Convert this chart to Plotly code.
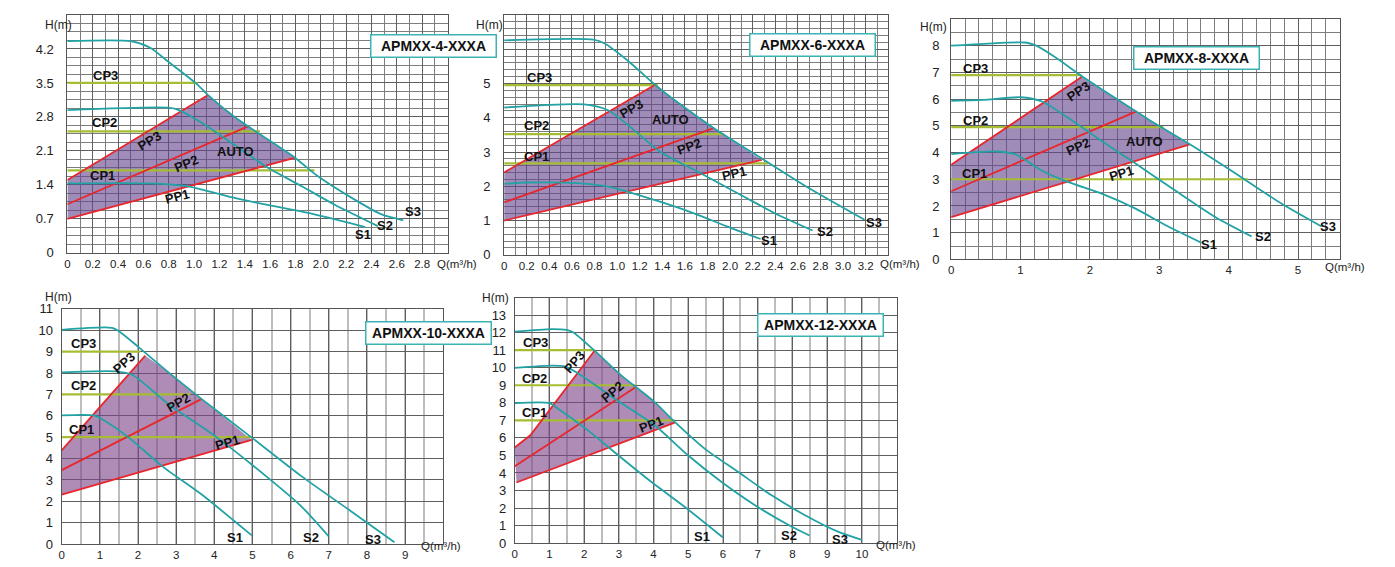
import plotly.graph_objects as go

W, H = 1395, 567
FONT = "Liberation Sans, Arial, sans-serif"

# ================= DATA =================
# ---- APMXX-4-XXXA ----
M4_S1_Q = [0, 0.65, 0.95, 1.32, 1.59, 1.90, 2.35]
M4_S1_H = [1.43, 1.43, 1.37, 1.13, 0.98, 0.82, 0.53]
M4_S2_Q = [0, 0.80, 0.88, 1.09, 1.32, 1.59, 1.85, 2.11, 2.45]
M4_S2_H = [2.94, 2.99, 2.94, 2.63, 2.22, 1.74, 1.37, 0.99, 0.55]
M4_S3_Q = [0, 0.50, 0.65, 0.80, 1.02, 1.11, 1.32, 1.51, 1.80, 1.98, 2.27, 2.48, 2.65]
M4_S3_H = [4.36, 4.36, 4.23, 3.93, 3.48, 3.25, 2.80, 2.46, 1.95, 1.57, 1.09, 0.79, 0.67]
M4_PP1_Q = [0, 1.80]
M4_PP1_H = [0.70, 1.96]
M4_PP2_Q = [0, 1.43]
M4_PP2_H = [1.00, 2.61]
M4_PP3_Q = [0, 1.11]
M4_PP3_H = [1.50, 3.25]
M4_CP_H = [1.70, 2.50, 3.50]
M4_CP_END = [1.95, 1.52, 1.03]
M4_XTICKS = [0, 0.2, 0.4, 0.6, 0.8, 1.0, 1.2, 1.4, 1.6, 1.8, 2.0, 2.2, 2.4, 2.6, 2.8]
M4_YTICKS = [0, 0.7, 1.4, 2.1, 2.8, 3.5, 4.2]

# ---- APMXX-6-XXXA ----
M6_S1_Q = [0, 0.21, 0.65, 0.95, 1.33, 1.68, 1.97, 2.27]
M6_S1_H = [2.07, 2.11, 2.09, 1.97, 1.60, 1.21, 0.83, 0.46]
M6_S2_Q = [0, 0.71, 0.92, 1.15, 1.38, 1.71, 2.12, 2.44, 2.73]
M6_S2_H = [4.30, 4.39, 4.22, 3.64, 3.01, 2.43, 1.70, 1.14, 0.71]
M6_S3_Q = [0, 0.79, 0.89, 1.09, 1.34, 1.51, 1.86, 2.30, 2.70, 3.19]
M6_S3_H = [6.26, 6.28, 6.17, 5.68, 4.95, 4.51, 3.69, 2.77, 1.94, 1.02]
M6_PP1_Q = [0, 2.28]
M6_PP1_H = [1.00, 2.77]
M6_PP2_Q = [0, 1.85]
M6_PP2_H = [1.53, 3.69]
M6_PP3_Q = [0, 1.34]
M6_PP3_H = [2.40, 4.97]
M6_CP_H = [2.67, 3.52, 4.95]
M6_CP_END = [2.34, 1.94, 1.36]
M6_XTICKS = [0, 0.2, 0.4, 0.6, 0.8, 1.0, 1.2, 1.4, 1.6, 1.8, 2.0, 2.2, 2.4, 2.6, 2.8, 3.0, 3.2]
M6_YTICKS = [0, 1, 2, 3, 4, 5, 6]

# ---- APMXX-8-XXXA ----
M8_S1_Q = [0, 0.64, 0.92, 1.31, 1.69, 2.17, 2.65, 3.13, 3.61]
M8_S1_H = [3.94, 4.04, 3.94, 3.32, 2.89, 2.46, 1.91, 1.23, 0.62]
M8_S2_Q = [0, 0.45, 1.0, 1.31, 1.69, 2.17, 2.60, 3.23, 3.80, 4.33]
M8_S2_H = [5.94, 5.97, 6.07, 5.91, 5.29, 4.43, 3.69, 2.58, 1.60, 0.86]
M8_S3_Q = [0, 1.07, 1.21, 1.50, 1.88, 2.36, 2.84, 3.44, 4.04, 4.76, 5.34]
M8_S3_H = [8.0, 8.12, 8.02, 7.57, 6.87, 6.05, 5.25, 4.31, 3.32, 2.09, 1.23]
M8_PP1_Q = [0, 3.44]
M8_PP1_H = [1.58, 4.31]
M8_PP2_Q = [0, 2.67]
M8_PP2_H = [2.55, 5.54]
M8_PP3_Q = [0, 1.88]
M8_PP3_H = [3.54, 6.83]
M8_CP_H = [3.0, 4.95, 6.9]
M8_CP_END = [4.28, 3.06, 1.88]
M8_XTICKS = [0, 1, 2, 3, 4, 5]
M8_YTICKS = [0, 1, 2, 3, 4, 5, 6, 7, 8]

# ---- APMXX-10-XXXA ----
M10_S1_Q = [0, 0.84, 1.06, 1.76, 2.63, 3.67, 4.54, 4.98]
M10_S1_H = [6.02, 6.02, 5.84, 4.98, 3.65, 2.32, 1.06, 0.41]
M10_S2_Q = [0, 1.41, 1.85, 2.80, 4.02, 5.41, 6.28, 7.0]
M10_S2_H = [8.03, 8.08, 7.92, 6.54, 5.05, 3.10, 1.77, 0.36]
M10_S3_Q = [0, 1.32, 1.50, 2.02, 2.80, 3.67, 4.98, 6.28, 7.59, 8.72]
M10_S3_H = [10.02, 10.11, 9.95, 9.20, 8.03, 6.78, 4.98, 3.18, 1.53, 0.09]
M10_PP1_Q = [0, 4.98]
M10_PP1_H = [2.32, 4.87]
M10_PP2_Q = [0, 3.66]
M10_PP2_H = [3.46, 6.78]
M10_PP3_Q = [0, 2.19]
M10_PP3_H = [4.38, 8.81]
M10_CP_H = [5, 7, 9]
M10_CP_END = [4.98, 3.37, 2.06]
M10_XTICKS = [0, 1, 2, 3, 4, 5, 6, 7, 8, 9]
M10_YTICKS = [0, 1, 2, 3, 4, 5, 6, 7, 8, 9, 10, 11]

# ---- APMXX-12-XXXA ----
M12_S1_Q = [0, 1.01, 1.25, 2.11, 2.98, 3.93, 4.89, 5.99]
M12_S1_H = [7.98, 7.98, 7.66, 6.43, 5.01, 3.50, 2.08, 0.34]
M12_S2_Q = [0, 1.06, 1.44, 1.92, 2.88, 4.03, 4.99, 5.95, 6.91, 7.97, 8.49]
M12_S2_H = [9.99, 10.12, 10.07, 9.56, 8.23, 6.72, 5.01, 3.50, 2.18, 0.95, 0.44]
M12_S3_Q = [0, 1.06, 1.49, 1.68, 2.30, 3.07, 4.03, 4.61, 5.47, 6.43, 7.39, 8.35, 9.31, 10.0]
M12_S3_H = [12.05, 12.2, 12.15, 12.02, 10.97, 9.56, 8.04, 6.91, 5.39, 4.07, 2.74, 1.61, 0.66, 0.19]
M12_PP1_Q = [0.05, 4.61]
M12_PP1_H = [3.46, 6.87]
M12_PP2_Q = [0, 3.48]
M12_PP2_H = [4.39, 8.89]
M12_PP3_Q = [0, 0.45, 2.30]
M12_PP3_H = [5.45, 6.15, 10.97]
M12_CP_H = [7, 9, 11]
M12_CP_END = [4.61, 3.48, 2.30]
M12_XTICKS = [0, 1, 2, 3, 4, 5, 6, 7, 8, 9, 10]
M12_YTICKS = [0, 1, 2, 3, 4, 5, 6, 7, 8, 9, 10, 11, 12, 13]

# ================= STYLE / LAYOUT =================
TEAL = "#22a2a4"
RED = "#e8262c"
OLIVE = "#a6bd33"
GRID_MAJOR = "#5f5f5f"
GRID_MINOR = "#7d7d7d"

# page placement correction (figure sits below/right of page origin)
OX, OY, SY = 8.5, 15.3, 0.9732


def PX(x):
    return min(max((x - OX) / W, 0.0), 1.0)


def PY(y):
    return min(max(1 - (y - OY) / SY / H, 0.0), 1.0)


def fmt1(v):
    return "0" if v == 0 else f"{v:.1f}"


def fmt0(v):
    return f"{v:g}"


PANELS = [
    dict(name="APMXX-4-XXXA",
         S=[(M4_S1_Q, M4_S1_H), (M4_S2_Q, M4_S2_H), (M4_S3_Q, M4_S3_H)],
         PP=[(M4_PP1_Q, M4_PP1_H), (M4_PP2_Q, M4_PP2_H), (M4_PP3_Q, M4_PP3_H)],
         CPH=M4_CP_H, CPE=M4_CP_END, xt=M4_XTICKS, yt=M4_YTICKS, xf=fmt1, yf=fmt1,
         px=(65, 446), py=(253, 14), xr=3.0, yr=4.9, xminor=0.1, yminor=0.175,
         fill="rgba(101,70,140,0.62)", xminor_style=(GRID_MINOR, 1), ystand=10,
         box=(368, 34.5), hm=(41, 15), qm=(433, 264),
         labels=[("CP3", 0.30, 3.66, 0), ("CP2", 0.29, 2.68, 0), ("CP1", 0.28, 1.59, 0),
                 ("PP3", 0.65, 2.32, -31), ("PP2", 0.94, 1.84, -23), ("AUTO", 1.33, 2.08, 0),
                 ("PP1", 0.87, 1.16, -15), ("S1", 2.33, 0.38, 0), ("S2", 2.51, 0.56, 0),
                 ("S3", 2.73, 0.85, 0)]),
    dict(name="APMXX-6-XXXA",
         S=[(M6_S1_Q, M6_S1_H), (M6_S2_Q, M6_S2_H), (M6_S3_Q, M6_S3_H)],
         PP=[(M6_PP1_Q, M6_PP1_H), (M6_PP2_Q, M6_PP2_H), (M6_PP3_Q, M6_PP3_H)],
         CPH=M6_CP_H, CPE=M6_CP_END, xt=M6_XTICKS, yt=M6_YTICKS, xf=fmt1, yf=fmt0,
         px=(502.7, 887.7), py=(255, 14), xr=3.4, yr=7.0, xminor=0.1, yminor=0.2,
         fill="rgba(101,70,140,0.62)", xminor_style=(GRID_MINOR, 1), ystand=10,
         box=(811.5, 33.5), hm=(472, 15), qm=(877, 264),
         labels=[("CP3", 0.31, 5.17, 0), ("CP2", 0.29, 3.76, 0), ("CP1", 0.29, 2.88, 0),
                 ("PP3", 1.13, 4.27, -30), ("AUTO", 1.47, 3.96, 0), ("PP2", 1.64, 3.16, -20),
                 ("PP1", 2.04, 2.36, -13), ("S1", 2.34, 0.42, 0), ("S2", 2.84, 0.68, 0),
                 ("S3", 3.27, 0.94, 0)]),
    dict(name="APMXX-8-XXXA",
         S=[(M8_S1_Q, M8_S1_H), (M8_S2_Q, M8_S2_H), (M8_S3_Q, M8_S3_H)],
         PP=[(M8_PP1_Q, M8_PP1_H), (M8_PP2_Q, M8_PP2_H), (M8_PP3_Q, M8_PP3_H)],
         CPH=M8_CP_H, CPE=M8_CP_END, xt=M8_XTICKS, yt=M8_YTICKS, xf=fmt0, yf=fmt0,
         px=(950.7, 1340), py=(259.6, 19.3), xr=5.6, yr=9.0, xminor=0.2, yminor=0.5,
         fill="rgba(101,70,140,0.62)", xminor_style=(GRID_MINOR, 1), ystand=8,
         box=(1260, 46), hm=(933, 18), qm=(1323, 267),
         labels=[("CP3", 0.35, 7.14, 0), ("CP2", 0.35, 5.19, 0), ("CP1", 0.33, 3.22, 0),
                 ("PP3", 1.83, 6.30, -34), ("PP2", 1.84, 4.21, -24), ("AUTO", 2.79, 4.43, 0),
                 ("PP1", 2.45, 3.22, -17), ("S1", 3.72, 0.55, 0), ("S2", 4.49, 0.86, 0),
                 ("S3", 5.43, 1.23, 0)]),
    dict(name="APMXX-10-XXXA",
         S=[(M10_S1_Q, M10_S1_H), (M10_S2_Q, M10_S2_H), (M10_S3_Q, M10_S3_H)],
         PP=[(M10_PP1_Q, M10_PP1_H), (M10_PP2_Q, M10_PP2_H), (M10_PP3_Q, M10_PP3_H)],
         CPH=M10_CP_H, CPE=M10_CP_END, xt=M10_XTICKS, yt=M10_YTICKS, xf=fmt0, yf=fmt0,
         px=(59.3, 441.7), py=(544.3, 309), xr=10, yr=11, xminor=0.5, yminor=None,
         fill="rgba(124,70,137,0.62)", xminor_style=("#bdbdbd", 2), ystand=5,
         box=(363, 333.3), hm=(41, 297), qm=(417, 554),
         labels=[("CP3", 0.58, 9.39, 0), ("CP2", 0.57, 7.43, 0), ("CP1", 0.52, 5.37, 0),
                 ("PP3", 1.65, 8.47, -42), ("PP2", 3.06, 6.62, -30), ("PP1", 4.35, 4.77, -16),
                 ("S1", 4.54, 0.33, 0), ("S2", 6.54, 0.33, 0), ("S3", 8.15, 0.20, 0)]),
    dict(name="APMXX-12-XXXA",
         S=[(M12_S1_Q, M12_S1_H), (M12_S2_Q, M12_S2_H), (M12_S3_Q, M12_S3_H)],
         PP=[(M12_PP1_Q, M12_PP1_H), (M12_PP2_Q, M12_PP2_H), (M12_PP3_Q, M12_PP3_H)],
         CPH=M12_CP_H, CPE=M12_CP_END, xt=M12_XTICKS, yt=M12_YTICKS, xf=fmt0, yf=fmt0,
         px=(513.3, 896), py=(543.3, 297.7), xr=11, yr=14, xminor=0.5, yminor=None,
         fill="rgba(124,70,137,0.62)", xminor_style=("#bdbdbd", 2), ystand=5,
         box=(819.5, 325), hm=(494, 298), qm=(873, 553),
         labels=[("CP3", 0.60, 11.41, 0), ("CP2", 0.58, 9.40, 0), ("CP1", 0.58, 7.42, 0),
                 ("PP3", 1.73, 10.35, -50), ("PP2", 2.83, 8.65, -40), ("PP1", 3.93, 6.75, -21),
                 ("S1", 5.39, 0.38, 0), ("S2", 7.89, 0.44, 0), ("S3", 9.36, 0.19, 0)]),
]

fig = go.Figure()
layout = dict(width=W, height=H, margin=dict(l=0, r=0, t=0, b=0),
              paper_bgcolor="white", plot_bgcolor="white", showlegend=False,
              font=dict(family=FONT, color="#222"))
annotations = []

for i, p in enumerate(PANELS):
    n = i + 1
    xa = "x" if n == 1 else f"x{n}"
    ya = "y" if n == 1 else f"y{n}"
    xkey = "xaxis" if n == 1 else f"xaxis{n}"
    ykey = "yaxis" if n == 1 else f"yaxis{n}"

    # shaded AUTO region, built from PP1, S3 and PP3
    (p1q, p1h), _, (p3q, p3h) = p["PP"]
    s3q, s3h = p["S"][2]
    lo, hi = p3q[-1], p1q[-1]
    mid = [(q, h) for q, h in zip(s3q, s3h) if lo < q < hi][::-1]
    polyq = list(p1q) + [m[0] for m in mid] + list(p3q)[::-1]
    polyh = list(p1h) + [m[1] for m in mid] + list(p3h)[::-1]
    fig.add_trace(go.Scatter(x=polyq, y=polyh, mode="lines", fill="toself",
                             fillcolor=p["fill"], line=dict(width=0),
                             xaxis=xa, yaxis=ya, hoverinfo="skip"))
    for h, e in zip(p["CPH"], p["CPE"]):
        fig.add_trace(go.Scatter(x=[0, e], y=[h, h], mode="lines",
                                 line=dict(color=OLIVE, width=2.2),
                                 xaxis=xa, yaxis=ya, hoverinfo="skip"))
    for q, h in p["PP"]:
        fig.add_trace(go.Scatter(x=q, y=h, mode="lines", line=dict(color=RED, width=1.8),
                                 xaxis=xa, yaxis=ya, hoverinfo="skip"))
    for q, h in p["S"]:
        fig.add_trace(go.Scatter(x=q, y=h, mode="lines",
                                 line=dict(color=TEAL, width=1.8, shape="spline", smoothing=0.7),
                                 xaxis=xa, yaxis=ya, hoverinfo="skip"))

    x0, x1 = p["px"]
    yb, yt = p["py"]
    xminor = dict(dtick=p["xminor"], tick0=0, showgrid=True,
                  gridcolor=p["xminor_style"][0], gridwidth=p["xminor_style"][1], ticks="")
    layout[xkey] = dict(domain=[PX(x0), PX(x1)], range=[0, p["xr"]], anchor=ya,
                        tickmode="array", tickvals=p["xt"], ticktext=[p["xf"](v) for v in p["xt"]],
                        showgrid=True, gridcolor=GRID_MAJOR, gridwidth=1, minor=xminor,
                        showline=True, linecolor="#555", linewidth=1, mirror=True,
                        zeroline=False, ticks="", tickfont=dict(size=11.5, color="#222"),
                        fixedrange=True)
    yaxis = dict(domain=[PY(yb), PY(yt)], range=[0, p["yr"]], anchor=xa,
                 tickmode="array", tickvals=p["yt"], ticktext=[p["yf"](v) for v in p["yt"]],
                 showgrid=True, gridcolor=GRID_MAJOR, gridwidth=1,
                 showline=True, linecolor="#555", linewidth=1, mirror=True,
                 zeroline=False, ticks="", tickfont=dict(size=13, color="#222"),
                 ticklabelstandoff=p["ystand"], fixedrange=True)
    if p["yminor"]:
        yaxis["minor"] = dict(dtick=p["yminor"], tick0=0, showgrid=True,
                              gridcolor=GRID_MINOR, gridwidth=1, ticks="")
    layout[ykey] = yaxis

    for txt, q, h, ang in p["labels"]:
        annotations.append(dict(x=q, y=h, xref=xa, yref=ya, text=f"<b>{txt}</b>",
                                showarrow=False, textangle=ang,
                                font=dict(size=13, color="#111")))
    bx, by = p["box"]
    annotations.append(dict(x=PX(bx), y=PY(by), xref="paper", yref="paper",
                            text=f"<b>{p['name']}</b>", showarrow=False,
                            bgcolor="white", bordercolor="#3bb3b5", borderwidth=1.5,
                            borderpad=2, width=120, height=17,
                            font=dict(size=14, color="#111")))
    hx, hy = p["hm"]
    hy_p = PY(hy)
    annotations.append(dict(x=PX(hx), y=min(hy_p, 0.998), xref="paper", yref="paper",
                            yanchor="top" if hy_p > 0.98 else "middle",
                            text="H(m)", showarrow=False, font=dict(size=12, color="#222")))
    qx, qy = p["qm"]
    annotations.append(dict(x=PX(qx), y=PY(qy), xref="paper", yref="paper",
                            xanchor="left", text="Q(m³/h)", showarrow=False,
                            font=dict(size=11.5, color="#222")))

layout["annotations"] = annotations
fig.update_layout(**layout)
fig.write_html("out.html")
